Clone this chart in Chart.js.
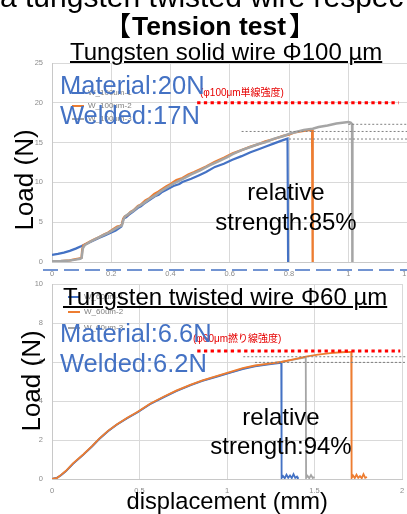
<!DOCTYPE html>
<html><head><meta charset="utf-8">
<script src="https://cdn.jsdelivr.net/npm/chart.js@4/dist/chart.umd.min.js"></script>
<style>
html,body{margin:0;padding:0;background:#fff;width:407px;height:514px;overflow:hidden;position:relative;font-family:"Liberation Sans",Arial,"Noto Sans CJK JP",sans-serif;}
.t{position:absolute;white-space:nowrap;}
canvas{position:absolute;left:0;top:0;}
.lg{position:absolute;white-space:nowrap;font-size:8px;line-height:8px;color:#7f7f7f;}
.lg i{display:inline-block;width:12px;height:2px;vertical-align:middle;margin-right:4px;}
</style></head><body>
<canvas id="c1" width="412" height="290"></canvas>
<canvas id="c2" width="407" height="514"></canvas>
<svg class="t" style="left:0;top:0" width="407" height="514"><line x1="43" y1="270" x2="407" y2="270" stroke="#4472C4" stroke-width="1.5" stroke-dasharray="15 6"/></svg>

<!-- legends -->
<div class="lg" style="left:72px;top:89px"><i style="background:#4472C4"></i>W_100um-1</div>
<div class="lg" style="left:72px;top:102px"><i style="background:#ED7D31"></i>W_100um-2</div>
<div class="lg" style="left:72px;top:115px"><i style="background:#A5A5A5"></i>W_100um-3</div>
<div class="lg" style="left:68px;top:293px"><i style="background:#4472C4"></i>W_60um-1</div>
<div class="lg" style="left:68px;top:308px"><i style="background:#ED7D31"></i>W_60um-2</div>
<div class="lg" style="left:68px;top:324px"><i style="background:#A5A5A5"></i>W_60um-3</div>

<div class="t" style="left:0;top:-18.4px;font-size:30px;line-height:30px;color:#000">a tungsten twisted wire respec</div>
<div class="t" style="left:0;width:420px;text-align:center;top:12.6px;font-size:26.5px;line-height:26.5px;font-weight:bold;color:#000"><span style="margin-right:1px">【</span>Tension test<span style="margin-left:3px">】</span></div>
<div class="t" style="left:70px;top:39.7px;font-size:24px;line-height:24px;text-decoration:underline;text-decoration-thickness:2px;color:#000">Tungsten solid wire Φ100 µm</div>
<div class="t" style="left:63px;top:284.7px;font-size:24px;line-height:24px;text-decoration:underline;text-decoration-thickness:2px;color:#000">Tungsten twisted wire Φ60 µm</div>

<div class="t" style="left:200px;top:88px;font-size:10px;line-height:10px;color:#e60000">(φ100μm単線強度)</div>
<div class="t" style="left:193px;top:334px;font-size:10px;line-height:10px;color:#e60000">(φ60μm撚り線強度)</div>

<div class="t" style="left:60px;top:73.4px;font-size:25.5px;line-height:25.5px;color:#4472C4">Material:20N</div>
<div class="t" style="left:60px;top:103.4px;font-size:25.5px;line-height:25.5px;color:#4472C4">Welded:17N</div>
<div class="t" style="left:60px;top:321.4px;font-size:25.5px;line-height:25.5px;color:#4472C4">Material:6.6N</div>
<div class="t" style="left:60px;top:351.4px;font-size:25.5px;line-height:25.5px;color:#4472C4">Welded:6.2N</div>

<div class="t" style="left:186px;width:200px;text-align:center;top:179.7px;font-size:24px;line-height:24px;color:#000">relative</div>
<div class="t" style="left:186px;width:200px;text-align:center;top:209.7px;font-size:24px;line-height:24px;color:#000">strength:85%</div>
<div class="t" style="left:181px;width:200px;text-align:center;top:404.7px;font-size:24px;line-height:24px;color:#000">relative</div>
<div class="t" style="left:181px;width:200px;text-align:center;top:433.7px;font-size:24px;line-height:24px;color:#000">strength:94%</div>

<div class="t" style="left:126.5px;width:200px;text-align:center;top:489.6px;font-size:23.7px;line-height:23.7px;color:#000">displacement (mm)</div>

<div class="t" style="left:24px;top:179.5px;font-size:26px;line-height:26px;color:#000;transform:translate(-50%,-50%) rotate(-90deg)">Load (N)</div>
<div class="t" style="left:31px;top:380.5px;font-size:26px;line-height:26px;color:#000;transform:translate(-50%,-50%) rotate(-90deg)">Load (N)</div>

<script>
// ---------- Top chart: Tungsten solid wire Φ100 µm (displacement mm, load N) ----------
const xTicks100 = [0, 0.2, 0.4, 0.6, 0.8, 1, 1.2];
const yTicks100 = [0, 5, 10, 15, 20, 25];
const w100_1 = [[0,0.9],[0.02,1.02],[0.04,1.18],[0.06,1.4],[0.08,1.68],[0.1,2.0],[0.12,2.35],[0.14,2.7],[0.16,3.05],[0.18,3.35],[0.2,3.7],[0.215,3.95],[0.228,4.3],[0.234,4.45],[0.238,5.0],[0.242,5.45],[0.25,5.6],[0.26,5.95],[0.273,6.3],[0.29,6.8],[0.3,7.0],[0.31,7.3],[0.33,7.8],[0.35,8.3],[0.36,8.45],[0.37,8.75],[0.385,9.05],[0.41,9.55],[0.43,9.8],[0.44,10.05],[0.47,10.45],[0.497,10.9],[0.52,11.3],[0.55,11.95],[0.58,12.35],[0.609,12.85],[0.64,13.3],[0.67,13.8],[0.7,14.2],[0.722,14.5],[0.75,14.9],[0.775,15.25],[0.795,15.5],[0.797,0]];
const w100_2 = [[0,0.05],[0.03,0.1],[0.06,0.2],[0.08,0.35],[0.095,0.45],[0.1,0.55],[0.102,1.6],[0.106,2.1],[0.115,2.3],[0.13,2.6],[0.145,2.9],[0.16,3.15],[0.175,3.45],[0.19,3.7],[0.2,3.95],[0.21,4.2],[0.22,4.45],[0.23,4.55],[0.236,4.7],[0.24,5.4],[0.245,5.7],[0.255,5.9],[0.265,6.3],[0.275,6.5],[0.29,7.05],[0.3,7.2],[0.315,7.75],[0.33,8.05],[0.345,8.55],[0.36,8.85],[0.375,9.25],[0.385,9.5],[0.4,9.8],[0.42,10.3],[0.44,10.55],[0.46,11.0],[0.48,11.3],[0.5,11.65],[0.52,12.0],[0.55,12.6],[0.58,13.1],[0.61,13.65],[0.64,14.05],[0.67,14.5],[0.7,14.85],[0.72,15.15],[0.75,15.45],[0.78,15.85],[0.8,16.0],[0.82,16.3],[0.84,16.4],[0.86,16.55],[0.878,16.6],[0.88,0]];
const w100_3 = [[0,0.1],[0.03,0.12],[0.06,0.18],[0.08,0.3],[0.095,0.4],[0.1,0.5],[0.104,1.7],[0.11,2.1],[0.13,2.55],[0.15,2.95],[0.17,3.3],[0.19,3.65],[0.21,4.1],[0.225,4.4],[0.236,4.6],[0.241,5.3],[0.247,5.75],[0.26,6.1],[0.275,6.45],[0.29,6.95],[0.31,7.4],[0.33,7.95],[0.35,8.4],[0.37,8.95],[0.385,9.3],[0.41,9.85],[0.44,10.4],[0.47,11.0],[0.5,11.5],[0.53,12.1],[0.56,12.6],[0.59,13.15],[0.61,13.55],[0.64,14.05],[0.67,14.45],[0.7,14.85],[0.72,15.05],[0.75,15.5],[0.78,15.8],[0.8,16.1],[0.82,16.3],[0.85,16.6],[0.88,16.75],[0.9,16.95],[0.93,17.15],[0.96,17.4],[0.98,17.5],[1.0,17.6],[1.008,17.5],[1.013,17.3],[1.014,0]];
const material100 = [[0.49,20],[1.17,20]];
const guide100a = [[1.0,17.3],[1.2,17.3]];
const guide100b = [[0.64,16.4],[1.2,16.4]];
const guide100c = [[0.80,15.45],[1.2,15.45]];

// ---------- Bottom chart: Tungsten twisted wire Φ60 µm ----------
const xTicks60 = [0, 0.5, 1, 1.5, 2];
const yTicks60 = [0, 2, 4, 6, 8, 10];
const w60_1 = [[0,0],[0.03,0.07],[0.05,0.18],[0.08,0.4],[0.12,0.78],[0.18,1.25],[0.23,1.68],[0.27,2.05],[0.32,2.45],[0.37,2.78],[0.43,3.12],[0.49,3.42],[0.56,3.83],[0.64,4.2],[0.71,4.5],[0.79,4.8],[0.86,5.03],[0.94,5.24],[1.02,5.45],[1.09,5.63],[1.16,5.77],[1.24,5.88],[1.31,5.96],[1.312,0.05],[1.32,0.15],[1.33,0.04],[1.34,0.22],[1.35,0.06],[1.36,0.18],[1.37,0.05],[1.38,0.25],[1.39,0.06],[1.4,0.12],[1.405,0.03]];
const w60_2 = [[0,0],[0.03,0.06],[0.05,0.2],[0.08,0.42],[0.12,0.8],[0.18,1.27],[0.23,1.7],[0.27,2.07],[0.32,2.47],[0.37,2.8],[0.43,3.14],[0.49,3.45],[0.56,3.86],[0.64,4.23],[0.71,4.53],[0.79,4.83],[0.86,5.06],[0.94,5.27],[1.02,5.49],[1.09,5.68],[1.16,5.82],[1.24,5.92],[1.31,6.0],[1.38,6.13],[1.45,6.27],[1.52,6.38],[1.59,6.45],[1.65,6.5],[1.71,6.52],[1.712,0.05],[1.72,0.18],[1.73,0.05],[1.74,0.22],[1.75,0.06],[1.76,0.15],[1.77,0.04],[1.78,0.25],[1.79,0.06],[1.8,0.1]];
const w60_3 = [[0,0],[0.03,0.07],[0.05,0.19],[0.08,0.41],[0.12,0.79],[0.18,1.26],[0.23,1.69],[0.27,2.06],[0.32,2.46],[0.37,2.79],[0.43,3.13],[0.49,3.44],[0.56,3.85],[0.64,4.22],[0.71,4.52],[0.79,4.82],[0.86,5.05],[0.94,5.26],[1.02,5.47],[1.09,5.66],[1.16,5.8],[1.24,5.91],[1.31,6.0],[1.38,6.12],[1.45,6.24],[1.452,0.05],[1.46,0.16],[1.47,0.04],[1.48,0.2],[1.49,0.05],[1.5,0.1]];
const material60 = [[0.83,6.56],[1.99,6.56]];
const guide60a = [[1.093,6.27],[2.03,6.27]];
const guide60b = [[1.16,5.98],[2.03,5.98]];

const BLUE = '#4472C4', ORANGE = '#ED7D31', GRAY = '#A5A5A5';
const pts = a => a.map(p => ({x: p[0], y: p[1]}));
const curve = (label, data, color, order, w) => ({label, data: pts(data), borderColor: color, borderWidth: w, pointRadius: 0, tension: 0, order});
const guide = (data, color, w, dash) => ({data: pts(data), borderColor: color, borderWidth: w, borderDash: dash, pointRadius: 0, order: -1, clip: false});
const fmt = v => String(Math.round(v * 100) / 100);

function axes(xmin, xmax, xstep, ymin, ymax, ystep, xh) {
  const tickFont = {family: 'Liberation Sans', size: 7.5};
  return {
    x: {type: 'linear', min: xmin, max: xmax,
        ticks: {stepSize: xstep, color: '#8c8c8c', font: tickFont, padding: 7.5, maxRotation: 0, callback: fmt},
        grid: {color: '#d9d9d9', drawTicks: false}, border: {color: '#c8c8c8'},
        afterFit: s => { s.height = xh; s.paddingLeft = 0; s.paddingRight = 0; }},
    y: {type: 'linear', min: ymin, max: ymax,
        ticks: {stepSize: ystep, color: '#8c8c8c', font: tickFont, padding: 9, callback: fmt},
        grid: {color: '#d9d9d9', drawTicks: false}, border: {color: '#c8c8c8'},
        afterFit: s => { s.width = 52; }}
  };
}
const common = {responsive: false, animation: false, plugins: {legend: {display: false}, tooltip: {enabled: false}}};

new Chart(document.getElementById('c1'), {
  type: 'line',
  data: {datasets: [
    curve('W_100um-1', w100_1, BLUE, 3, 2.2),
    curve('W_100um-2', w100_2, ORANGE, 2, 2.3),
    curve('W_100um-3', w100_3, GRAY, 1, 2.5),
    guide(material100, '#ff0000', 3, [3.3, 3.4]),
    guide(guide100a, '#808080', 1, [2, 2]),
    guide(guide100b, '#808080', 1, [2, 2]),
    guide(guide100c, '#808080', 1, [2, 2])
  ]},
  options: Object.assign({}, common, {
    layout: {padding: {top: 63, right: 4.5, bottom: 0, left: 0}},
    scales: axes(xTicks100[0], xTicks100[xTicks100.length-1], xTicks100[1]-xTicks100[0], yTicks100[0], yTicks100[yTicks100.length-1], yTicks100[1]-yTicks100[0], 28)
  })
});

new Chart(document.getElementById('c2'), {
  type: 'line',
  data: {datasets: [
    curve('W_60um-1', w60_1, BLUE, 3, 1.8),
    curve('W_60um-2', w60_2, ORANGE, 2, 1.8),
    curve('W_60um-3', w60_3, GRAY, 4, 1.8),
    guide(material60, '#ff0000', 3, [3.3, 3.4]),
    guide(guide60a, '#808080', 1, [2, 2]),
    guide(guide60b, '#808080', 1, [2, 2])
  ]},
  options: Object.assign({}, common, {
    layout: {padding: {top: 284, right: 5, bottom: 0, left: 0}},
    scales: axes(xTicks60[0], xTicks60[xTicks60.length-1], xTicks60[1]-xTicks60[0], yTicks60[0], yTicks60[yTicks60.length-1], yTicks60[1]-yTicks60[0], 35)
  })
});
</script>
</body></html>
